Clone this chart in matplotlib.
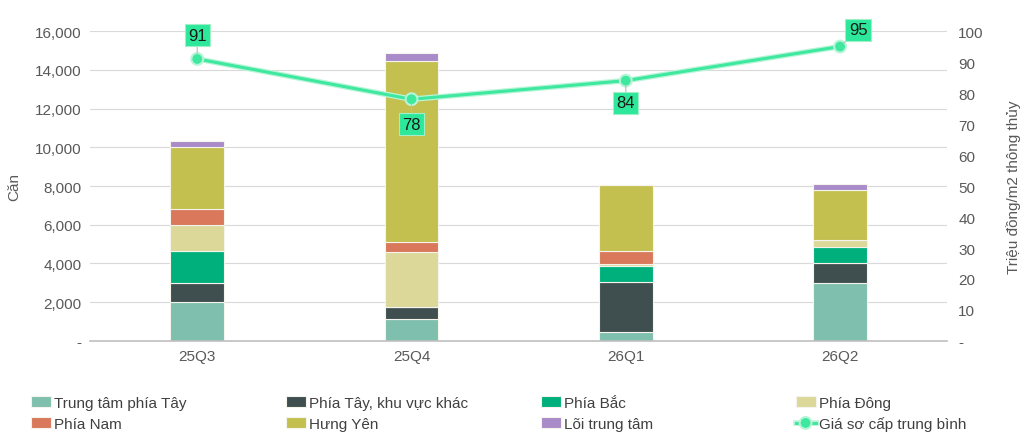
import matplotlib
matplotlib.use("Agg")
import matplotlib.pyplot as plt
import matplotlib.patheffects as pe
import numpy as np
from matplotlib.ticker import FuncFormatter, FixedLocator

plt.rcParams['font.family'] = ['Liberation Sans', 'DejaVu Sans']

quarters = ["25Q3", "25Q4", "26Q1", "26Q2"]
series_names = ["Trung tâm phía Tây", "Phía Tây, khu vực khác", "Phía Bắc", "Phía Đông",
                "Phía Nam", "Hưng Yên", "Lõi trung tâm"]
trung_tam_phia_tay = [2000, 1150, 450, 3000]
phia_tay_khac = [1000, 600, 2600, 1050]
phia_bac = [1650, 0, 830, 800]
phia_dong = [1350, 2850, 100, 350]
phia_nam = [800, 500, 650, 0]
hung_yen = [3200, 9350, 3400, 2600]
loi_trung_tam = [300, 400, 0, 300]
price = [91, 78, 84, 95]
price_label = "Giá sơ cấp trung bình"

colors = ["#7fbfad", "#3f4e4f", "#00b07c", "#dbd89a", "#d9785a", "#c4c050", "#a88bc8"]
line_color = "#3ee89e"

series = [trung_tam_phia_tay, phia_tay_khac, phia_bac, phia_dong, phia_nam, hung_yen, loi_trung_tam]

fig = plt.figure(figsize=(10.24, 4.39), dpi=100)
ax = fig.add_axes([0.088, 0.221, 0.837, 0.706])
x = np.arange(len(quarters))
bottom = np.zeros(len(quarters))
handles = []
for name, vals, c in zip(series_names, series, colors):
    v = np.array(vals, dtype=float)
    b = ax.bar(x, v, 0.25, bottom=bottom, color=c, edgecolor="#f4f4ec", linewidth=0.8,
               label=name, zorder=2)
    handles.append(b)
    bottom += v

ax.set_xlim(-0.5, 3.5)
ax.set_ylim(0, 16000)
ax.yaxis.set_major_locator(FixedLocator(np.arange(0, 16001, 2000)))
ax.yaxis.set_major_formatter(FuncFormatter(lambda v, p: "-" if v == 0 else f"{int(v):,}"))
ax.grid(axis="y", color="#d9d9d9", linewidth=0.8, zorder=0)
ax.set_axisbelow(True)
for s in ["left", "right", "top"]:
    ax.spines[s].set_visible(False)
ax.spines["bottom"].set_color("#bfbfbf")
ax.spines["bottom"].set_linewidth(1.2)
ax.set_xticks(x)
ax.set_xticklabels(quarters)
ax.tick_params(axis="both", length=0, labelsize=11, colors="#595959", pad=6)
ax.set_ylabel("Căn", fontsize=11, color="#595959", labelpad=10)

ax2 = ax.twinx()
ax2.set_ylim(0, 100)
ax2.yaxis.set_major_locator(FixedLocator(np.arange(0, 101, 10)))
ax2.yaxis.set_major_formatter(FuncFormatter(lambda v, p: "-" if v == 0 else f"{int(v)}"))
for s in ["left", "right", "top", "bottom"]:
    ax2.spines[s].set_visible(False)
ax2.tick_params(axis="y", length=0, labelsize=11, colors="#595959", pad=8)
ax2.set_ylabel("Triệu đồng/m2 thông thủy", fontsize=11, color="#595959", labelpad=16)
ln, = ax2.plot(x, price, color=line_color, linewidth=2.2, marker="o", markersize=6,
               label=price_label, zorder=5,
               path_effects=[pe.Stroke(linewidth=4, foreground="#b8f5d8"), pe.Normal()])

offsets = [(0, 17), (0, -18), (0, -16), (13, 12)]
for xi, v, off in zip(x, price, offsets):
    ax2.annotate(str(v), xy=(xi, v), xytext=off, textcoords="offset points",
                 ha="center", va="center", fontsize=12, color="#1a1a1a",
                 bbox=dict(boxstyle="square,pad=0.2", fc="#2de89a", ec="#9ff0c8", lw=0.8),
                 arrowprops=dict(arrowstyle="-", color="#bbbbbb", lw=0.8, shrinkA=0, shrinkB=3),
                 zorder=6)

all_handles = handles + [ln]
all_labels = series_names + [price_label]
col_x = [0.030, 0.279, 0.528, 0.777]
for c in range(4):
    idx = [c, c + 4]
    leg = fig.legend([all_handles[i] for i in idx], [all_labels[i] for i in idx],
                     loc="center left", bbox_to_anchor=(col_x[c], 0.056),
                     ncol=1, frameon=False, fontsize=11,
                     handlelength=1.3, handleheight=0.7, handletextpad=0.2,
                     labelspacing=0.45, borderpad=0, borderaxespad=0)
    for t in leg.get_texts():
        t.set_color("#404040")

fig.savefig("out.png", dpi=100)
